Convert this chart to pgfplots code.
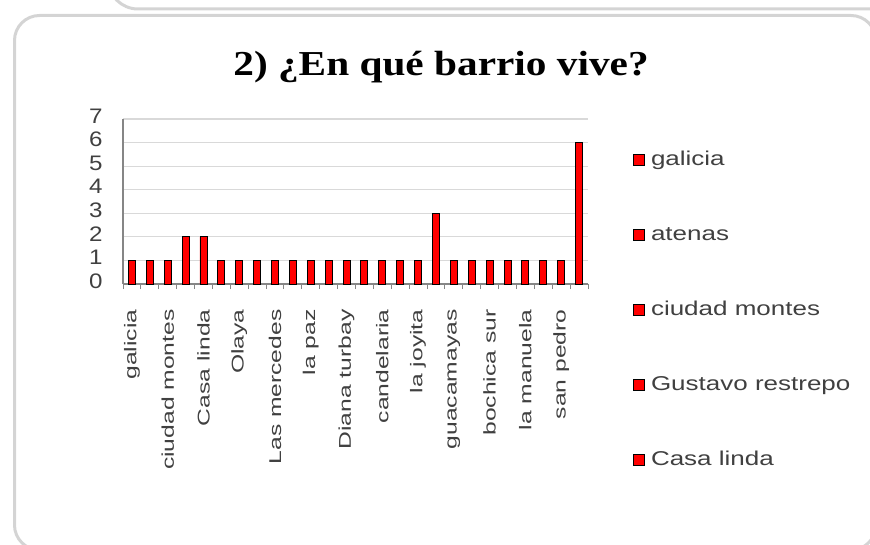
\documentclass[border=0pt]{standalone}
\usepackage{fontspec}
\setmainfont{Liberation Sans}
\newfontfamily\titlefont[FakeStretch=1.18]{Liberation Serif}
\newfontfamily\widefont[FakeStretch=1.45]{Liberation Sans}
\newfontfamily\legfont[FakeStretch=1.3]{Liberation Sans}
\newfontfamily\numfont[FakeStretch=1.15]{Liberation Sans}
\usepackage{pgfplots}
\pgfplotsset{compat=1.18}
\definecolor{cardline}{HTML}{D4D4D4}
\definecolor{gridgray}{HTML}{D9D9D9}
\definecolor{axisgray}{HTML}{868686}
\definecolor{txtgray}{HTML}{404040}

\begin{document}
\begin{tikzpicture}[x=1pt,y=1pt]
\path[use as bounding box] (0,0) rectangle (870,544);
\begin{scope}
  \clip (0,0) rectangle (870,544);
  % previous card (bottom edge only visible)
  \draw[cardline,line width=3pt,rounded corners=30pt] (108,620) -- (108,535) -- (900,535);
  % current card
  \draw[cardline,line width=3pt,rounded corners=25pt] (14.5,-6) rectangle (876,528.5);
\end{scope}

\node[anchor=base,font=\titlefont\bfseries\fontsize{35}{35}\selectfont]
  at (441,468) {2) ¿En qué barrio vive?};

\coordinate (plotorigin) at (123pt,260pt);
\begin{axis}[
  at={(plotorigin)}, anchor=south west, scale only axis,
  width=465pt, height=165pt,
  xmin=0.5, xmax=26.5, ymin=0, ymax=7,
  axis lines*=left,
  axis line style={-,axisgray,line width=1.2pt},
  ymajorgrids, grid style={gridgray,line width=1.2pt},
  ytick={0,1,...,7},
  xtick={1,3,...,25},
  xticklabels={galicia,ciudad montes,Casa linda,Olaya,Las mercedes,la paz,Diana turbay,candelaria,la joyita,guacamayas,bochica sur,la manuela,san pedro},
  minor xtick={0.5,1.5,...,26.5},
  major tick length=0pt, minor tick length=5pt,
  tick align=outside, minor tick style={axisgray,line width=1pt},
  x tick label style={rotate=90,anchor=east,text=txtgray,
    font=\widefont\fontsize{17}{17}\selectfont},
  xticklabel shift=22pt,
  y tick label style={text=txtgray,font=\numfont\fontsize{21}{21}\selectfont,
    /pgf/number format/assume math mode=true,
    xshift=-17pt,yshift=3pt},
  legend cell align=left,
  legend image code/.code={\draw[fill=red,draw=black,line width=0.8pt]
    (0pt,-5.5pt) rectangle (11pt,5.5pt);},
  legend style={at={(1,1)},anchor=north west,xshift=42pt,yshift=-29pt,
    draw=none,fill=none,text=txtgray,row sep=55pt,
    font=\legfont\fontsize{20}{20}\selectfont,
    nodes={text height=15pt,text depth=5pt,inner sep=0pt},
    /tikz/every odd column/.append style={column sep=6pt}},
]
\addlegendimage{}\addlegendentry{galicia}
\addlegendimage{}\addlegendentry{atenas}
\addlegendimage{}\addlegendentry{ciudad montes}
\addlegendimage{}\addlegendentry{Gustavo restrepo}
\addlegendimage{}\addlegendentry{Casa linda}
\addplot[ybar,bar width=7pt,fill=red,draw=black,line width=0.9pt,forget plot]
  coordinates {(1,1) (2,1) (3,1) (4,2) (5,2) (6,1) (7,1) (8,1) (9,1) (10,1)
    (11,1) (12,1) (13,1) (14,1) (15,1) (16,1) (17,1) (18,3) (19,1) (20,1)
    (21,1) (22,1) (23,1) (24,1) (25,1) (26,6)};
\end{axis}
\end{tikzpicture}
\end{document}
